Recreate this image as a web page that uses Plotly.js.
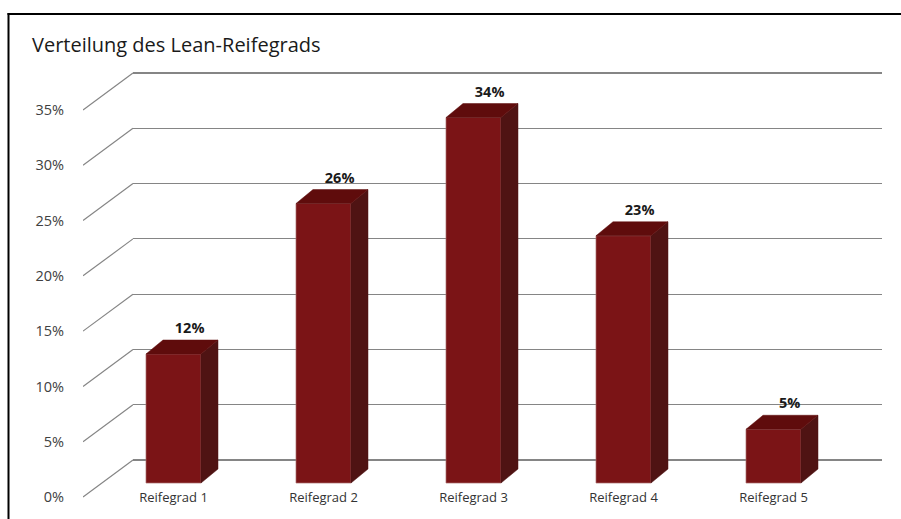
<!DOCTYPE html>
<html>
<head>
<meta charset="utf-8">
<script src="https://cdn.plot.ly/plotly-3.0.1.min.js"></script>
<style>html,body{margin:0;padding:0;background:#fff;overflow:hidden;}#chart{width:901px;height:519px;}</style>
</head>
<body>
<div id="chart"></div>
<script>
// ---- data ----
const categories = ['Reifegrad 1', 'Reifegrad 2', 'Reifegrad 3', 'Reifegrad 4', 'Reifegrad 5'];
const values = [12, 26, 34, 23, 5];
const yTicks = [0, 5, 10, 15, 20, 25, 30, 35];
const yTickLabels = ['0%', '5%', '10%', '15%', '20%', '25%', '30%', '35%'];
const chartTitle = 'Verteilung des Lean-Reifegrads';

// ---- layout geometry (pixels of the 901x519 canvas) ----
const W = 901, H = 519;
const wallLeft = 133, wallRight = 882, wall0 = 460, wall35 = 73;
const perWall = (wall0 - wall35) / 35;          // px per percent on back wall
const diagDX = 50, diagDY = 37;                 // front-left offset of the side-wall lines
const barBase = 483, perBar = 10.75;            // px of 0% at bar front, px per percent
const cat0 = 173.5, catStep = 150;              // px of first category centre, spacing
const barWpx = 55, depthXpx = 17, depthYpx = 14; // bar front width and 3D depth offset
const axisBottom = 488;

const colFront = '#7b1416', colTop = '#5f0c0c', colSide = '#4f1313', gridCol = '#858585';
const font = '"Open Sans", "Noto Sans", sans-serif';

// derived data-unit geometry
const barW = barWpx / catStep, dX = depthXpx / catStep, dY = depthYpx / perBar;
const wallPad = 0.5, diagPad = 4;
const dyUnits = diagDY / perWall;

// top and side faces of the bars, built from the values
const topX = [], topY = [], sideX = [], sideY = [];
values.forEach((v, i) => {
  const l = i - barW / 2, r = i + barW / 2;
  topX.push(l, r, r + dX, l + dX, l, null);
  topY.push(v, v, v + dY, v + dY, v, null);
  sideX.push(r, r + dX, r + dX, r, r, null);
  sideY.push(0, dY, v + dY, v, 0, null);
});

// diagonal grid lines on the left side wall
const diagX = [], diagY = [];
yTicks.forEach(t => { diagX.push(0, 1, null); diagY.push(t - dyUnits, t, null); });

const traces = [
  // back wall subplot (drawn first -> behind)
  {type: 'scatter', x: [0.5], y: [0], xaxis: 'x', yaxis: 'y', mode: 'markers',
   marker: {opacity: 0}, hoverinfo: 'skip', showlegend: false},
  // side-wall diagonals
  {type: 'scatter', x: diagX, y: diagY, xaxis: 'x2', yaxis: 'y2', mode: 'lines',
   line: {color: gridCol, width: 1.2}, hoverinfo: 'skip', showlegend: false},
  // bars: front faces
  {type: 'bar', x: categories.map((c, i) => i), y: values, width: barW, xaxis: 'x3', yaxis: 'y3',
   marker: {color: colFront, line: {color: 'rgba(170,110,110,0.7)', width: 1}},
   hoverinfo: 'skip', showlegend: false},
  // bars: side faces
  {type: 'scatter', x: sideX, y: sideY, xaxis: 'x3', yaxis: 'y3', mode: 'lines', fill: 'toself',
   fillcolor: colSide, line: {color: colSide, width: 0.5}, hoverinfo: 'skip', showlegend: false},
  // bars: top faces
  {type: 'scatter', x: topX, y: topY, xaxis: 'x3', yaxis: 'y3', mode: 'lines', fill: 'toself',
   fillcolor: colTop, line: {color: colTop, width: 0.5}, hoverinfo: 'skip', showlegend: false},
  // data labels
  {type: 'scatter', x: values.map((v, i) => i + dX * 0.95), y: values.map(v => v + dY + 0.3),
   xaxis: 'x3', yaxis: 'y3', mode: 'text', text: values.map(v => '<b>' + v + '%</b>'),
   textposition: 'top center', cliponaxis: false,
   textfont: {family: font, size: 14.5, color: '#1a1a1a'}, hoverinfo: 'skip', showlegend: false}
];

const wallBottomPx = wall0 + wallPad * perWall, wallTopPx = wall35 - wallPad * perWall;
const diagBottomPx = wall0 + diagPad * perWall;

const layout = {
  width: W, height: H, autosize: false,
  margin: {l: 0, r: 0, t: 0, b: 0, pad: 0},
  paper_bgcolor: '#ffffff', plot_bgcolor: 'rgba(0,0,0,0)',
  font: {family: font, size: 13, color: '#404040'},
  title: {text: chartTitle, x: 32 / W, xanchor: 'left', xref: 'container',
          y: 1 - 45 / H, yanchor: 'middle', yref: 'container',
          font: {family: font, size: 20, color: '#1a1a1a'}},
  xaxis: {domain: [wallLeft / W, wallRight / W], range: [0, 1], visible: false, fixedrange: true},
  yaxis: {domain: [(H - wallBottomPx) / H, (H - wallTopPx) / H], range: [-wallPad, 35 + wallPad],
          tickmode: 'array', tickvals: yTicks, showticklabels: false, showgrid: true,
          gridcolor: gridCol, gridwidth: 1.2, zeroline: false, showline: false, ticks: '', fixedrange: true},
  xaxis2: {domain: [(wallLeft - diagDX) / W, wallLeft / W], range: [0, 1], visible: false, anchor: 'y2', fixedrange: true},
  yaxis2: {domain: [(H - diagBottomPx) / H, (H - wallTopPx) / H], range: [-diagPad, 35 + wallPad], anchor: 'x2',
           tickmode: 'array', tickvals: yTicks.map(t => t - dyUnits), ticktext: yTickLabels,
           showgrid: false, zeroline: false, showline: false, ticks: 'outside', ticklen: 15,
           tickcolor: 'rgba(0,0,0,0)', tickfont: {family: font, size: 14.5, color: '#404040'}, fixedrange: true},
  xaxis3: {domain: [0, 1], range: [-cat0 / catStep, (W - cat0) / catStep], anchor: 'y3',
           tickmode: 'array', tickvals: categories.map((c, i) => i), ticktext: categories,
           showgrid: false, zeroline: false, showline: false, ticks: '',
           tickfont: {family: font, size: 13, color: '#333333'}, fixedrange: true},
  yaxis3: {domain: [(H - axisBottom) / H, 1], range: [-(axisBottom - barBase) / perBar, barBase / perBar],
           anchor: 'x3', visible: false, fixedrange: true},
  shapes: [
    {type: 'line', xref: 'paper', yref: 'paper', x0: 7.5 / W, x1: 1, y0: 1 - 14 / H, y1: 1 - 14 / H,
     line: {color: '#000000', width: 2}, layer: 'above'},
    {type: 'line', xref: 'paper', yref: 'paper', x0: 8.5 / W, x1: 8.5 / W, y0: 1 - 13 / H, y1: 0,
     line: {color: '#000000', width: 2}, layer: 'above'}
  ],
  showlegend: false
};

Plotly.newPlot('chart', traces, layout, {displayModeBar: false, staticPlot: true});
</script>
</body>
</html>
